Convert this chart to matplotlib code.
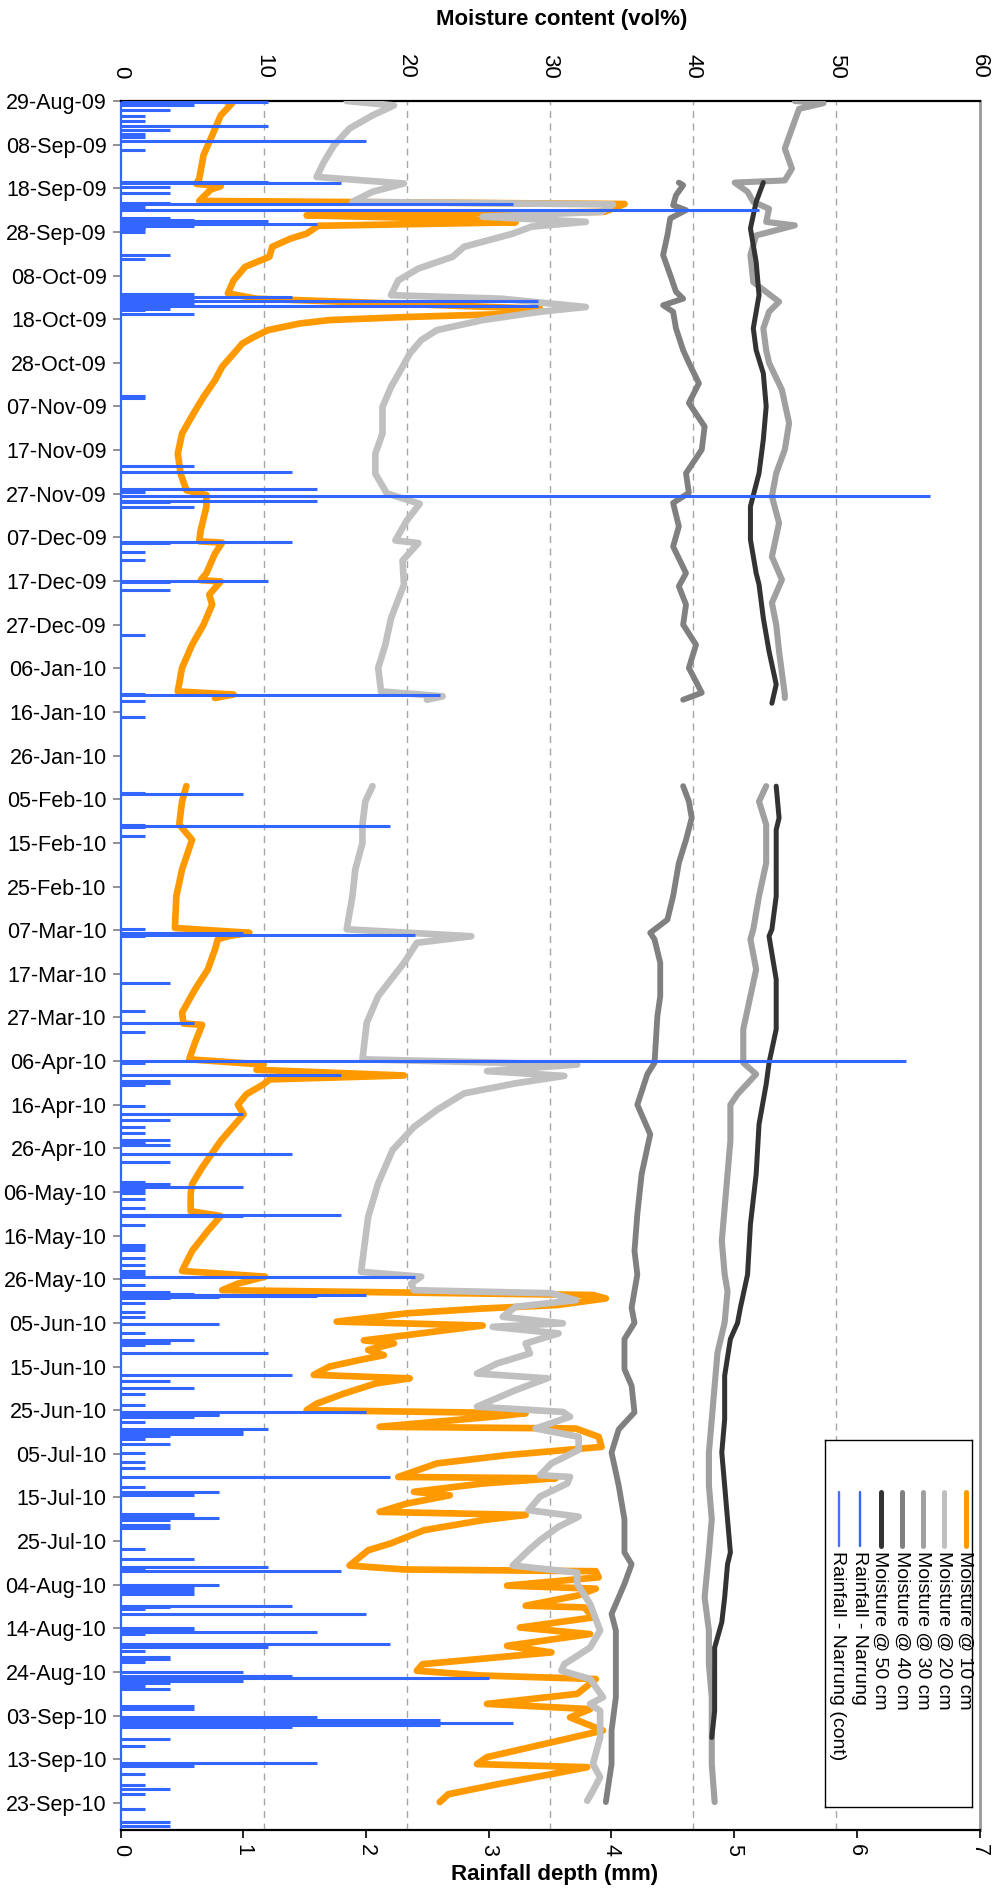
import numpy as np
import matplotlib
matplotlib.use("Agg")
import matplotlib.pyplot as plt
import matplotlib.dates as mdates
import pandas as pd

plt.rcParams['font.family'] = ['Liberation Sans', 'DejaVu Sans']

nan = np.nan
START = "2009-08-29"
END_DAY = 396.2          # last day shown (days after START)

# ---------------- data: (days after START, value) ----------------
moist_10cm = [
    (0, 7.3), (0.5, 7.8), (3.3, 7.0), (7.9, 6.4), (12.4, 5.8), (17.8, 5.5), (19.0, 5.3), (19.5, 7.0),
    (20.3, 6.3), (21.6, 5.9), (22.9, 5.5), (23.6, 35.2), (25.4, 33.8), (26.2, 13.0), (27.0, 23.2),
    (27.8, 27.6), (28.6, 13.8), (30.4, 13.0), (31.5, 11.9), (33.4, 10.6), (35.7, 10.4), (38.0, 8.7),
    (41.1, 7.9), (44.1, 7.5), (45.3, 9.5), (47.6, 29.3), (48.7, 28.0), (49.5, 20.0), (50.2, 14.6),
    (51.0, 12.5), (52.5, 10.3), (54.1, 9.3), (55.6, 8.5), (57.9, 7.9), (60.9, 7.1), (64.0, 6.6),
    (67.8, 5.8), (71.6, 5.1), (76.2, 4.3), (80.8, 4.0), (85.4, 4.2), (89.2, 4.6), (90.3, 6.0),
    (93.0, 6.0), (98.4, 5.6), (100.9, 5.5), (101.2, 7.1), (103.7, 6.6), (108.2, 6.0), (109.8, 5.6),
    (110.1, 7.0), (113.1, 6.2), (115.4, 6.4), (120.0, 5.8), (124.6, 5.0), (129.9, 4.3), (135.3, 4.0),
    (136.0, 7.9), (136.8, 6.6), (147.0, nan), (157.0, 4.6), (160.5, 4.3), (165.8, 4.1), (169.3, 5.0),
    (176.1, 4.3), (182.2, 3.9), (189.5, 3.8), (190.6, 9.0), (191.4, 7.5), (192.1, 6.8), (194.4, 6.6),
    (199.0, 6.1), (203.6, 5.2), (208.9, 4.3), (211.4, 4.4), (211.7, 5.7), (215.8, 5.2), (219.6, 4.8),
    (220.8, 10.0), (222.0, 9.5), (223.3, 19.8), (224.2, 10.4), (225.3, 10.0), (227.6, 8.8), (230.0, 8.2),
    (232.2, 8.6), (238.3, 7.0), (244.4, 5.7), (248.2, 5.0), (250.5, 4.9), (254.4, 4.9), (255.5, 7.0),
    (258.9, 6.1), (263.5, 5.0), (268.1, 4.3), (269.4, 10.1), (271.0, 8.2), (272.5, 7.1), (273.6, 33.0),
    (274.4, 33.9), (275.9, 30.5), (276.7, 25.3), (277.8, 20.0), (279.7, 15.1), (280.6, 25.3),
    (282.8, 20.0), (284.0, 17.0), (284.7, 19.1), (286.2, 17.3), (287.4, 18.4), (288.5, 16.7),
    (290.0, 14.6), (291.9, 13.5), (292.7, 20.2), (293.9, 17.8), (296.2, 15.6), (298.5, 13.7),
    (300.0, 13.0), (300.7, 28.3), (301.5, 26.0), (303.8, 18.1), (304.2, 31.8), (306.1, 33.4),
    (308.4, 33.6), (310.3, 27.0), (312.2, 22.1), (315.3, 19.4), (315.6, 30.4), (316.8, 25.3),
    (318.7, 20.5), (319.5, 23.0), (321.4, 20.0), (323.3, 18.1), (324.0, 28.3), (325.2, 25.3),
    (327.5, 21.2), (330.5, 18.9), (332.1, 17.3), (335.6, 16.0), (336.5, 19.8), (336.9, 33.2),
    (338.3, 33.4), (340.2, 27.0), (340.9, 33.2), (342.5, 31.9), (344.8, 28.3), (345.2, 32.4),
    (347.5, 33.0), (349.8, 27.9), (351.3, 32.8), (354.0, 27.0), (355.5, 30.1), (358.2, 21.1),
    (359.7, 20.7), (360.8, 25.2), (361.6, 33.2), (365.0, 31.9), (367.3, 25.6), (368.5, 32.8),
    (370.4, 31.4), (373.4, 33.7), (376.5, 29.6), (379.5, 25.6), (381.1, 24.9), (381.8, 32.6),
    (383.4, 30.1), (385.6, 26.5), (388.0, 22.9), (389.8, 22.3),
]

moist_20cm = [
    (0, 15.8), (1.0, 19.1), (3.3, 17.6), (6.3, 16.0), (10.2, 14.9), (14.0, 14.2), (17.4, 13.7),
    (18.9, 19.8), (20.8, 17.6), (23.1, 16.2), (23.7, 34.4), (25.4, 33.6), (26.5, 25.3), (27.7, 32.5),
    (28.8, 28.7), (30.4, 27.4), (33.4, 24.0), (35.7, 23.2), (38.4, 20.8), (41.1, 19.4), (44.5, 18.9),
    (45.3, 26.6), (47.2, 32.5), (48.3, 29.3), (50.2, 25.3), (52.5, 22.1), (54.8, 21.0), (57.9, 20.2),
    (60.9, 19.7), (65.5, 18.9), (70.1, 18.3), (76.2, 18.3), (80.8, 17.8), (85.4, 17.8), (89.9, 18.6),
    (92.3, 20.9), (96.1, 20.0), (100.7, 19.2), (101.3, 20.8), (105.3, 19.7), (110.8, 19.8),
    (118.5, 18.9), (124.6, 18.5), (129.9, 18.0), (135.3, 18.2), (136.4, 22.5), (137.2, 21.4),
    (147.0, nan), (157.0, 17.6), (160.5, 17.1), (165.8, 16.9), (170.0, 16.9), (176.1, 16.4),
    (182.2, 16.2), (189.8, 15.8), (191.4, 24.5), (192.9, 20.7), (197.5, 19.8), (205.1, 18.0),
    (211.2, 17.2), (219.6, 16.9), (220.8, 31.9), (222.3, 25.6), (223.4, 31.0), (225.1, 27.6),
    (227.4, 24.0), (231.2, 22.1), (235.1, 20.5), (240.4, 19.0), (248.0, 18.0), (255.7, 17.3),
    (263.3, 17.0), (268.3, 16.8), (269.4, 21.0), (271.0, 20.3), (272.5, 20.5), (273.2, 30.1),
    (274.8, 31.8), (276.3, 27.6), (278.6, 26.7), (280.1, 30.9), (280.9, 26.0), (282.4, 30.6),
    (284.7, 28.3), (287.0, 28.6), (289.3, 26.3), (291.6, 24.9), (292.7, 29.8), (295.4, 27.6),
    (299.2, 24.9), (300.4, 30.9), (301.5, 31.4), (304.2, 29.0), (306.1, 32.0), (309.1, 32.0),
    (312.2, 30.1), (314.9, 29.3), (315.3, 31.4), (316.8, 31.2), (319.8, 29.3), (322.9, 28.5),
    (324.4, 32.0), (326.7, 30.6), (329.8, 29.3), (332.1, 28.5), (335.6, 27.4), (337.2, 31.9),
    (339.8, 31.9), (344.4, 32.8), (350.5, 33.5), (354.4, 32.8), (358.2, 31.0), (359.7, 30.8),
    (361.6, 32.8), (365.8, 33.7), (367.3, 32.8), (368.9, 33.5), (375.0, 33.5), (381.1, 33.0),
    (384.1, 33.5), (387.2, 33.0), (389.5, 32.6),
]

moist_30cm = [
    (0, 47.1), (0.5, 49.1), (1.8, 47.4), (6.3, 46.9), (10.9, 46.4), (15.5, 46.9), (18.2, 46.4),
    (18.7, 42.9), (20.8, 43.8), (23.1, 44.2), (24.7, 45.3), (27.7, 45.1), (28.5, 47.1), (30.8, 44.4),
    (35.3, 44.0), (41.5, 44.2), (46.0, 46.0), (48.3, 45.3), (52.1, 44.9), (57.1, 45.1), (60.0, 45.3),
    (66.2, 46.2), (73.8, 46.7), (79.9, 46.4), (85.3, 45.8), (90.6, 45.5), (96.7, 46.0), (104.4, 45.5),
    (109.7, 46.2), (115.0, 45.5), (120.0, 45.8), (126.1, 46.0), (136.0, 46.4), (136.8, 46.4),
    (147.0, nan), (157.0, 45.1), (160.5, 44.6), (165.8, 45.1), (174.6, 45.1), (182.2, 44.6),
    (189.8, 44.2), (192.1, 44.0), (199.0, 44.4), (205.1, 44.0), (212.7, 43.5), (220.4, 43.5),
    (223.0, 44.4), (227.6, 43.1), (230.0, 42.6), (238.3, 42.6), (245.9, 42.4), (253.6, 42.2),
    (261.2, 42.0), (268.9, 42.2), (272.7, 42.4), (279.9, 42.2), (286.8, 41.7), (294.4, 41.5),
    (302.1, 41.3), (309.7, 41.1), (317.3, 41.1), (325.0, 41.3), (332.6, 41.1), (342.9, 40.8),
    (350.5, 41.1), (358.2, 41.1), (365.8, 41.3), (373.4, 41.3), (381.1, 41.3), (389.8, 41.5),
]

moist_40cm = [
    (18.7, 39.0), (19.3, 39.3), (21.6, 38.8), (23.9, 38.6), (25.0, 39.5), (26.9, 38.4), (30.8, 38.2),
    (35.3, 37.9), (39.9, 38.4), (43.7, 38.8), (45.3, 39.3), (46.8, 37.9), (48.3, 38.6), (52.1, 38.8),
    (57.1, 39.3), (60.0, 39.7), (64.7, 40.4), (69.2, 39.7), (74.6, 40.8), (79.9, 40.6), (85.3, 39.5),
    (89.8, 39.7), (92.1, 38.6), (97.5, 39.0), (102.1, 38.6), (108.2, 39.5), (111.2, 39.0),
    (115.4, 39.5), (120.0, 39.3), (124.6, 40.2), (129.9, 39.7), (135.6, 40.6), (137.2, 39.3),
    (147.0, nan), (157.0, 39.3), (160.5, 39.7), (164.3, 39.9), (169.3, 39.5), (174.6, 39.0),
    (182.2, 38.6), (187.6, 38.2), (190.6, 37.0), (192.1, 37.3), (197.5, 37.7), (205.1, 37.7),
    (209.7, 37.5), (220.4, 37.3), (223.0, 36.8), (230.0, 36.1), (236.8, 37.0), (245.9, 36.4),
    (255.1, 36.1), (263.5, 35.9), (268.9, 36.1), (276.5, 35.7), (280.0, 35.9), (283.7, 35.2),
    (290.6, 35.2), (294.4, 35.7), (300.5, 35.9), (304.4, 34.8), (309.7, 34.3), (317.3, 34.8),
    (325.0, 35.2), (332.6, 35.2), (335.3, 35.7), (339.8, 35.2), (346.7, 34.3), (350.5, 34.6),
    (358.2, 34.6), (365.8, 34.6), (373.4, 34.3), (381.1, 34.3), (389.8, 33.9),
]

moist_50cm = [
    (18.7, 44.9), (23.1, 44.4), (29.2, 44.0), (36.9, 44.4), (44.5, 44.6), (52.1, 44.2), (57.1, 44.4),
    (62.4, 44.9), (70.0, 45.1), (77.6, 44.9), (85.3, 44.6), (92.9, 44.0), (100.5, 44.0), (108.2, 44.4),
    (110.8, 44.6), (118.5, 44.9), (126.1, 45.3), (133.7, 45.8), (138.0, 45.5), (147.0, nan),
    (157.0, 45.8), (164.3, 46.0), (167.0, 45.8), (174.6, 45.8), (182.2, 45.8), (189.8, 45.5),
    (191.4, 45.3), (201.3, 45.8), (212.7, 45.8), (220.4, 45.3), (225.3, 45.1), (234.5, 44.6),
    (245.9, 44.4), (257.4, 44.0), (268.9, 43.8), (276.5, 43.3), (280.0, 43.1), (283.7, 42.6),
    (292.1, 42.2), (302.1, 42.2), (309.7, 42.0), (317.3, 42.2), (325.0, 42.4), (332.6, 42.6),
    (335.3, 42.4), (342.9, 42.2), (348.6, 42.0), (354.4, 41.5), (362.0, 41.5), (368.9, 41.5),
    (375.0, 41.3),
]

rain_narrung = [
    (0.2, 1.2), (1.0, 0.6), (2.1, 0.4), (3.5, 0.2), (4.6, 0.2), (5.8, 1.2), (6.7, 0.4), (7.6, 0.2),
    (8.2, 0.2), (9.2, 2.0), (11.3, 0.2), (18.6, 1.2), (18.9, 1.8), (19.7, 0.4), (21.0, 0.4),
    (23.4, 0.4), (23.6, 3.2), (24.3, 0.2), (24.9, 5.2), (26.9, 0.4), (27.2, 0.6), (27.5, 1.2),
    (27.9, 0.4), (28.2, 1.6), (28.6, 0.6), (29.0, 0.2), (29.4, 0.2), (30.0, 0.2), (35.2, 0.4),
    (36.1, 0.2), (44.3, 0.6), (44.9, 1.4), (45.4, 0.6), (45.8, 3.4), (46.3, 0.6), (47.0, 3.4),
    (47.6, 0.4), (48.0, 0.2), (48.7, 0.6), (67.6, 0.2), (68.1, 0.2), (83.7, 0.6), (85.1, 1.4),
    (88.8, 1.6), (89.6, 0.2), (90.6, 6.6), (91.7, 1.6), (92.0, 0.4), (93.0, 0.6), (101.0, 1.4),
    (101.3, 0.4), (103.3, 0.2), (105.2, 0.2), (110.0, 1.2), (110.2, 0.4), (112.1, 0.4), (122.3, 0.2),
    (135.9, 0.2), (136.1, 2.6), (137.4, 0.2), (141.2, 0.2),
]

rain_narrung_cont = [
    (158.6, 0.2), (158.8, 1.0), (165.9, 0.2), (166.1, 2.2), (166.3, 0.2), (168.4, 0.2), (189.7, 0.2),
    (190.6, 1.0), (190.9, 0.2), (191.2, 2.4), (191.4, 0.2), (202.2, 0.4), (208.5, 0.2), (211.2, 0.6),
    (213.3, 0.2), (220.0, 6.4), (220.4, 0.2), (223.2, 1.8), (224.5, 0.4), (225.0, 0.4), (225.5, 0.2),
    (230.3, 0.2), (232.2, 1.0), (233.5, 0.4), (235.2, 0.2), (236.4, 0.2), (238.1, 0.4), (238.5, 0.2),
    (238.9, 0.2), (239.3, 0.4), (241.3, 1.4), (243.1, 0.4), (247.7, 0.2), (248.2, 0.4), (248.7, 0.2),
    (248.9, 1.0), (249.6, 0.2), (250.3, 0.2), (251.7, 0.2), (253.6, 0.2), (255.3, 1.8), (255.6, 1.0),
    (257.6, 0.2), (262.2, 0.2), (262.7, 0.2), (263.3, 0.2), (265.2, 0.2), (266.8, 0.2), (268.1, 0.2),
    (268.7, 0.2), (269.4, 2.4), (271.3, 0.2), (272.9, 0.4), (273.3, 0.6), (273.6, 2.0), (273.9, 1.6),
    (274.1, 0.8), (274.4, 0.4), (275.5, 0.2), (277.5, 0.2), (278.6, 0.2), (280.3, 0.8), (282.4, 0.2),
    (283.9, 0.6), (284.3, 0.4), (284.7, 0.4), (285.1, 0.2), (287.0, 1.2), (292.0, 1.4), (293.3, 0.4),
    (294.9, 0.6), (296.3, 0.2), (298.7, 0.2), (300.4, 2.0), (300.8, 0.8), (301.1, 0.8), (301.5, 0.6),
    (302.7, 0.2), (304.2, 1.2), (304.9, 1.0), (305.5, 1.0), (306.0, 0.4), (306.5, 0.2), (307.8, 0.4),
    (309.9, 0.2), (311.8, 0.2), (313.3, 0.2), (315.3, 2.2), (317.5, 0.2), (318.7, 0.8), (319.5, 0.6),
    (323.7, 0.6), (324.2, 0.6), (324.7, 0.8), (325.2, 0.4), (326.3, 0.4), (327.1, 0.4), (331.7, 0.2),
    (334.1, 0.6), (336.0, 1.2), (336.2, 0.2), (336.8, 1.8), (340.0, 0.8), (340.7, 0.6), (341.4, 0.6),
    (342.1, 0.6), (344.8, 1.4), (345.2, 0.4), (345.6, 0.2), (346.7, 2.0), (349.8, 0.6), (350.3, 0.6),
    (350.8, 1.6), (351.3, 0.2), (353.6, 2.2), (354.3, 1.2), (355.1, 0.2), (356.5, 0.4), (357.0, 0.4),
    (357.6, 0.2), (360.1, 1.0), (360.8, 1.4), (361.3, 3.0), (362.0, 1.0), (362.6, 0.4), (363.3, 0.2),
    (363.9, 0.4), (367.7, 0.6), (368.5, 0.6), (370.4, 1.6), (371.0, 2.6), (371.6, 3.2), (372.1, 2.6),
    (372.7, 1.4), (375.3, 0.4), (376.9, 0.2), (380.9, 1.6), (381.5, 0.6), (383.4, 0.2), (386.0, 0.2),
    (386.9, 0.4), (387.9, 0.2), (391.4, 0.2), (394.4, 0.4), (395.2, 0.4),
]

date_ticks = pd.date_range(START, "2010-09-23", freq="10D")
moist_ticks = [0, 10, 20, 30, 40, 50, 60]
rain_ticks = [0, 1, 2, 3, 4, 5, 6, 7]

labels = ["Moisture @ 10 cm", "Moisture @ 20 cm", "Moisture @ 30 cm", "Moisture @ 40 cm",
          "Moisture @ 50 cm", "Rainfall - Narrung", "Rainfall - Narrung (cont)"]
colors = ["#FF9900", "#C0C0C0", "#A0A0A0", "#808080", "#333333", "#3366FF", "#4573FF"]
widths = [4.8, 4.8, 4.4, 4.2, 3.6, 2.2, 2.2]

# ---------------- figure ----------------
W, H = 1005, 1892
fig = plt.figure(figsize=(W / 100, H / 100), dpi=100)
ax = fig.add_axes([120.5 / W, 1 - 1830 / H, 859 / W, (1830 - 101) / H])
ax2 = ax.twiny()

t0 = mdates.date2num(pd.Timestamp(START))


def yv(days):
    return t0 + np.asarray(days, dtype=float)


for pts, c, lw in zip([moist_10cm, moist_20cm, moist_30cm, moist_40cm, moist_50cm], colors[:5], widths[:5]):
    d, v = np.array(pts, dtype=float).T
    ax.plot(v, yv(d), color=c, lw=lw, solid_capstyle='round', solid_joinstyle='round', zorder=3)

for pts, c, lw in zip([rain_narrung, rain_narrung_cont], colors[5:], widths[5:]):
    d, v = np.array(pts, dtype=float).T
    ax2.hlines(yv(d), 0, v, color="#3366FF", lw=lw, zorder=4)

ax.set_xlim(0, 60)
ax2.set_xlim(0, 7)
ax.set_ylim(t0 + END_DAY, t0)

# moisture axis on top
ax.xaxis.set_ticks_position('top')
ax.xaxis.set_label_position('top')
ax.set_xticks(moist_ticks)
ax.tick_params(axis='x', which='both', length=0, pad=16, labelsize=16, labelrotation=270)

# rainfall axis at bottom
ax2.xaxis.set_ticks_position('bottom')
ax2.xaxis.set_label_position('bottom')
ax2.set_xticks(rain_ticks)
ax2.tick_params(axis='x', length=6, width=1.2, direction='out', pad=4, labelsize=15.5,
                labelrotation=270, color='black')

# date axis
ax.set_yticks(mdates.date2num(date_ticks))
ax.yaxis.set_major_formatter(mdates.DateFormatter('%d-%b-%y'))
ax.tick_params(axis='y', length=6, width=1.2, color='#7f7f7f', pad=4, labelsize=15.5)

# grid
ax.grid(axis='x', color='#A6A6A6', linestyle=(0, (5, 4)), lw=1.0)
ax.set_axisbelow(True)
gls = ax.get_xgridlines()
gls[0].set_visible(False)
gls[-1].set_visible(False)

# spines
ax.spines['top'].set_color('black')
ax.spines['top'].set_linewidth(1.6)
ax.spines['bottom'].set_color('black')
ax.spines['bottom'].set_linewidth(1.6)
ax.spines['right'].set_color('#999999')
ax.spines['right'].set_linewidth(2.0)
ax.spines['left'].set_color('#3366FF')
ax.spines['left'].set_linewidth(1.6)
for s in ax2.spines.values():
    s.set_visible(False)

# axis titles
fig.text(562 / W, 1 - 19 / H, "Moisture content (vol%)", ha='center', va='center',
         fontsize=16, fontweight='bold')
fig.text(555 / W, 1 - 1874 / H, "Rainfall depth (mm)", ha='center', va='center',
         fontsize=16, fontweight='bold')

# rotated legend
lx0, ly_top, lx1, ly_bot = 825, 1440, 972, 1807
lax = fig.add_axes([lx0 / W, 1 - ly_bot / H, (lx1 - lx0) / W, (ly_bot - ly_top) / H])
lax.set_zorder(10)
lax.set_facecolor('white')
lax.set_xlim(lx0, lx1)
lax.set_ylim(ly_bot, ly_top)
lax.set_xticks([])
lax.set_yticks([])
for s in lax.spines.values():
    s.set_color('black')
    s.set_linewidth(1.0)
for i, (lab, c, lw) in enumerate(zip(labels, colors, widths)):
    xc = 965.5 - i * 21.1
    lax.plot([xc, xc], [1492, 1546], color=c, lw=min(lw, 3.6) if i < 5 else 1.7,
             solid_capstyle='round')
    lax.text(xc - 1, 1551, lab, rotation=270, rotation_mode='anchor',
             ha='left', va='center', fontsize=14)

fig.savefig("out.png", dpi=100)
